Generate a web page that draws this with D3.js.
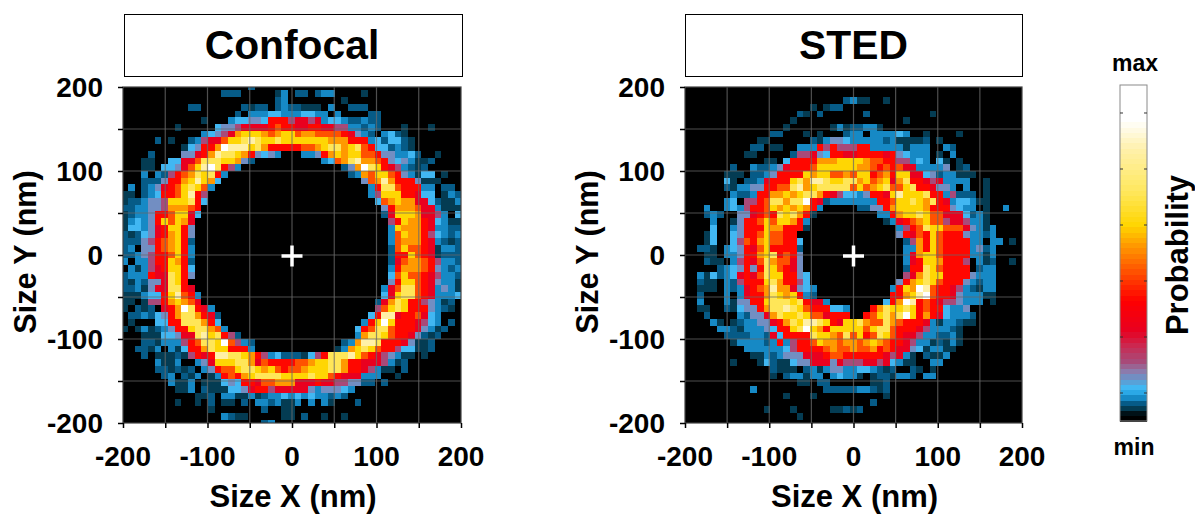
<!DOCTYPE html>
<html><head><meta charset="utf-8">
<script src="https://cdnjs.cloudflare.com/ajax/libs/d3/7.8.5/d3.min.js"></script>
<style>html,body{margin:0;padding:0;background:#fff}svg{display:block}text{font-family:"Liberation Sans",Arial,sans-serif;font-weight:bold;fill:#000}</style>
</head><body><svg id="c" width="1195" height="514"></svg>
<script>
// Binned probability levels: rows run from +200 nm (top) to -200 nm (bottom).
const confocalRows = [
"00000 00000 00000 00002 00000 00000 00000 00000 00000 00000",
"00000 00000 00000 22200 00013 02202 33000 01000 00000 00000",
"00000 00000 00000 00000 00023 00000 00010 00000 00000 00000",
"00000 00000 22000 00021 22023 22111 03002 22000 00000 00000",
"00000 00000 00000 00203 33443 33443 30300 00220 00000 00000",
"00000 00000 00100 03445 54888 67767 34432 23220 00000 00000",
"00000 00010 00004 55677 77898 87788 77663 32320 00100 01000",
"00000 00000 00345 67abb ba9ab b9aa9 99987 53203 42100 00000",
"00000 20100 23677 9bbcd cbbcb bbbbb baaa8 88342 44210 00000",
"00000 00001 4588a edddb ca888 8899a bccab c9844 23210 00000",
"00002 00005 578ad ccba8 54530 00335 8abab b9985 53342 00100",
"00011 00447 79ccc bba52 00000 00000 349ac daa98 54531 12000",
"00011 04457 9bdec 86300 00000 00000 00025 aecb8 76321 20000",
"00030 32689 acbc8 30000 00000 00000 00002 3a9bb 98531 44010",
"00022 2588a bdba4 00000 00000 00000 00000 059ad a88851 11000",
"03023 5789b cb930 00000 00000 00000 00000 0038c c98883 30220",
"11023 4889b d8600 00000 00000 00000 00000 0036b bb8874 40132",
"12235 56bbb c8400 00000 00000 00000 00000 00049 abaa77 42113",
"22335 56aaa 98000 00000 00000 00000 00000 00005 8aaa97 73111",
"12335 889bb 74000 00000 00000 00000 00000 00002 7bbba7 76304",
"13435 8b9ba 70000 00000 00000 00000 00000 00000 68baa8 74311",
"14435 78bb8 50000 00000 00000 00000 00000 00000 3baaa8 73322",
"21245 78ab8 50000 00000 00000 00000 00000 00000 39baa8 64323",
"22256 89ab8 20000 00000 00000 00000 00000 00000 39aaa8 73212",
"23055 89ab8 30000 00000 00000 00000 00000 00000 29b998 71332",
"22356 889b8 30000 00000 00000 00000 00000 00000 288b98 71222",
"30336 88ba8 20000 00000 00000 00000 00000 00000 279aa9 86332",
"03136 78bb8 40000 00000 00000 00000 00000 00000 38aaa9 85323",
"23338 77cb8 50000 00000 00000 00000 00000 00000 49b998 76332",
"21325 57cb8 00000 00000 00000 00000 00000 00000 58bb98 75331",
"22315 77cc8 70000 00000 00000 00000 00000 00003 79cc98 73531",
"11134 48bd9 83000 00000 00000 00000 00000 00004 7bcc98 73334",
"11016 68aba 97000 00000 00000 00000 00000 00027 acb886 53120",
"10212 078ae c8730 00000 00000 00000 00000 00069 bcb888 53210",
"02232 458ac ca872 00000 00000 00000 00000 0048d d78897 43000",
"01000 4488c cca84 00000 00000 00000 00000 038be b88876 43020",
"10131 23588 bcca9 30000 00000 00000 00000 489cc 988875 31200",
"00011 14457 7cdbc 86200 00000 00000 00000 3accb 98875 21200",
"00022 13336 89ccb e9632 00000 00000 00023 addc8 88751 12000",
"00221 30314 88acb b8883 00000 00000 0013a bcb98 86441 12000",
"00020 11121 6878d dccba 86342 22146 8cccd b9876 53110 10000",
"00000 31130 0357b bbcca 79888 899ab bcca8 87776 31200 00000",
"00000 22121 20358 99bcc bab98 99abb bcca8 87631 10200 00000",
"00000 02302 13013 898ab ccccb bbbcb b9877 73330 01000 00000",
"00000 00311 30111 45488 799aa a7778 77665 52202 00000 00000",
"00000 00011 30211 14457 88677 77753 55543 00000 00000 00000",
"00000 00000 01120 33113 12334 34343 32320 00000 00000 00000",
"00000 00010 01020 11020 33231 13030 31000 20000 00000 00000",
"00000 00000 00010 00000 02001 10000 00000 00000 00000 00000",
"00000 00000 00000 32110 00001 10200 10010 00000 00000 00000",
"00000 00000 00000 00000 02300 00000 00000 00000 00000 00000"
];
const stedRows = [
"00000 00000 00000 00000 00000 00000 00000 00000 00000 00000",
"00000 00000 00000 00000 00000 00000 00000 00000 00000 00000",
"00000 00000 00000 00000 00002 31100 10000 00000 00000 00000",
"00000 00000 00000 00001 01220 00000 00000 00000 00000 00000",
"00000 00000 00000 00210 20000 00200 00000 00100 00000 00000",
"00000 00000 00000 01000 00000 00000 00010 00000 00000 00000",
"00000 00000 00000 10000 00131 22331 00000 00000 00000 00000",
"00000 00000 00022 00010 10002 33033 33430 01000 01000 00000",
"00000 00000 01100 00002 13554 33333 23111 12010 00000 00000",
"00000 00000 22011 00333 86866 68833 33313 33003 20000 00000",
"00000 00001 10000 02667 54887 78888 78543 33010 30000 00000",
"00000 00000 00110 48888 aaabb bba99 88663 43041 01000 00000",
"00000 00200 32235 78889 bbbbb baa98 98977 33335 01200 00000",
"00000 01110 22358 888ba bb99a 9bb89 a8bb7 74523 31110 00000",
"00000 04102 23788 8bcad dcbbc cab9a b7ac8 87673 33300 10000",
"00000 02133 55889 9cdab ccccc 9b9ab c99bc 88755 30300 10000",
"00000 00322 388aa babcc a8764 43588 7bdbb bc883 62220 10000",
"00000 03406 689cc acce8 72333 33338 89bbc bac87 34431 10000",
"00030 03436 889ba baba8 30000 02255 8abbb ba888 54330 10030",
"00023 20055 7898c bca81 00000 00003 38abb cb997 774231 0000",
"00003 00158 89b9b ba830 00000 00000 13789 ab996 776331 0000",
"00004 00358 88baa 88810 00000 00000 00368 9cbb9 997531 30000",
"00014 00458 89b99 88000 00000 00000 00587 98b98 885332 30000",
"00014 00469 8ab99 88400 00000 00000 00026 a8b98 888330 33010",
"00221 03458 79b88 88200 00000 00000 00033 a8b98 888352 30000",
"00011 03358 8abc8 98500 00000 00000 00037 abb98 888331 30000",
"00021 10368 79ca9 97500 00000 00000 00037 8bba8 886031 20010",
"00000 23458 58cb9 87500 00000 00000 00028 8cb98 888023 30000",
"00314 23478 79cbb 88540 00000 00000 00067 acbb8 888533 30000",
"00211 03268 88bca 88640 00000 00000 0058a bcb98 885323 30000",
"00111 03237 89ada a7543 00000 00000 038ba ed988 763213 30000",
"00200 03037 88acb ab832 00000 00000 088ab de988 753331 10000",
"00300 03155 88bcc cbc87 73000 00000 48aed 89876 653330 10000",
"00110 02145 58acc dcb98 88443 0008a cbbcb 89884 33500 00000",
"00020 00032 557ac bbcb9 97888 0089b caceb 8a874 33320 00000",
"00003 10123 35578 acbdd cb87b bca99 ca988 87313 32110 00000",
"00000 33213 33548 8bceb a8bbb bb9bc c9888 76333 21000 00000",
"00000 02222 33274 8888c bba9c 9b89c b9877 63322 31000 00000",
"00000 00133 33238 36889 baa9a a9aba 98876 33121 31000 00000",
"00000 00003 33333 46888 89a99 a99a8 98775 41331 10000 00000",
"00000 00000 11323 55577 78998 88888 76731 02113 00000 00000",
"00000 00100 01421 14557 77576 66776 74311 00330 00000 00000",
"00000 00000 00021 11023 13553 34432 12002 10100 00000 00000",
"00000 00000 00010 23313 30343 31012 21332 03300 00000 00000",
"00000 00000 00000 00110 22000 00011 20000 00000 00000 00000",
"00000 00000 30000 00000 02222 23321 20000 00000 00000 00000",
"00000 00000 00000 10001 00000 00000 10000 00000 00000 00000",
"00000 00000 00000 00000 00000 00020 00000 00000 00000 00000",
"00000 00000 00100 01000 00112 12000 00000 00000 00000 00000",
"00000 00000 00000 00100 00000 00000 00000 00000 00000 00000",
"00000 00000 00000 00000 00000 00000 00000 00000 00000 00000"
];
const levelChars = "0123456789abcde";
const levelValues = [0,.035,.057,.075,.098,.135,.185,.27,.36,.45,.52,.585,.68,.8,.93];
const colorPositions = [0,.018,.033,.057,.074,.098,.122,.146,.18,.226,.27,.36,.45,.524,.583,.688,.807,.896,1];
const colorValues = ["#000000","#000000","#03303f","#06608f","#1a94d4","#3cbcf8","#5f9bd0","#8a7fb0","#a84a78","#cc2850","#e80020","#ff0000","#ff5500","#ff9a00","#ffd500","#ffe860","#fff0a8","#ffffff","#ffffff"];
const majorTicks = [-200,-100,0,100,200];
const minorTicks = [-200,-150,-100,-50,0,50,100,150,200];
const legendTicks = [0.0833,0.25,0.4167,0.5833,0.75,0.9167];
const panels = [{title:"Confocal",rows:confocalRows,x:123,w:338,binStart:-201.8,boxX:124.5},{title:"STED",rows:stedRows,x:685,w:337,binStart:-201.5,boxX:685.5}];
const plotTop=87, plotH=336, binX=7.89, binY=8;
const cont = d3.scaleLinear().domain(colorPositions).range(colorValues).interpolate(d3.interpolateRgb);
const steps = 64;
const color = t => cont((Math.min(steps-1,Math.floor(t*steps))+.5)/steps);
const svg = d3.select("#c");
const defs = svg.append("defs");
panels.forEach((p,k)=>{
  const x = d3.scaleLinear().domain([-200,200]).range([p.x,p.x+p.w]);
  const y = d3.scaleLinear().domain([-200,200]).range([plotTop+plotH,plotTop]);
  defs.append("clipPath").attr("id","clip"+k).append("rect").attr("x",p.x).attr("y",plotTop).attr("width",p.w).attr("height",plotH);
  const g = svg.append("g");
  g.append("rect").attr("x",p.boxX).attr("y",14.5).attr("width",p.w).attr("height",62).attr("fill","#fff").attr("stroke","#000").attr("stroke-width",1);
  g.append("text").attr("x",p.x+p.w/2).attr("y",59).attr("text-anchor","middle").attr("font-size",40.8).text(p.title);
  g.append("rect").attr("x",p.x).attr("y",plotTop).attr("width",p.w).attr("height",plotH).attr("fill","#000");
  const cells=[];
  p.rows.forEach((r,j)=>{ const s=r.replace(/ /g,""); for(let i=0;i<s.length;i++){ const l=levelChars.indexOf(s[i]); if(l>0) cells.push({i,j,v:levelValues[l]}); } });
  g.append("g").attr("clip-path",`url(#clip${k})`).selectAll("rect").data(cells).join("rect")
    .attr("x",d=>x(p.binStart+binX*d.i)).attr("width",x(binX)-x(0))
    .attr("y",d=>y(200-binY*d.j+binY/2)).attr("height",y(0)-y(binY))
    .attr("fill",d=>color(d.v)).attr("shape-rendering","crispEdges");
  const grid=g.append("g").attr("stroke","#6a6a6a").attr("stroke-opacity",.75).attr("stroke-width",1.2);
  minorTicks.slice(1,-1).forEach(v=>{
    grid.append("line").attr("x1",x(v)).attr("x2",x(v)).attr("y1",plotTop).attr("y2",plotTop+plotH);
    grid.append("line").attr("y1",y(v)).attr("y2",y(v)).attr("x1",p.x).attr("x2",p.x+p.w);
  });
  g.append("rect").attr("x",p.x).attr("y",plotTop).attr("width",p.w).attr("height",plotH).attr("fill","none").attr("stroke","#444").attr("stroke-width",1.2);
  // centre cross
  g.append("line").attr("x1",x(0)-10.5).attr("x2",x(0)+10.5).attr("y1",y(0)+1).attr("y2",y(0)+1).attr("stroke","#fff").attr("stroke-width",3.5);
  g.append("line").attr("x1",x(0)).attr("x2",x(0)).attr("y1",y(0)-9.5).attr("y2",y(0)+11.5).attr("stroke","#fff").attr("stroke-width",3.5);
  const axB=g.append("g").attr("transform",`translate(0,${plotTop+plotH})`).call(d3.axisBottom(x).tickValues(minorTicks).tickSize(5).tickFormat(""));
  const axL=g.append("g").attr("transform",`translate(${p.x},0)`).call(d3.axisLeft(y).tickValues(minorTicks).tickSize(5).tickFormat(""));
  [axB,axL].forEach(a=>{a.select(".domain").remove();a.selectAll("line").attr("stroke","#000").attr("stroke-width",1.5);});
  majorTicks.forEach(v=>{
    g.append("text").attr("x",x(v)).attr("y",466).attr("text-anchor","middle").attr("font-size",28).text(v);
    g.append("text").attr("x",p.x-20).attr("y",y(v)+10).attr("text-anchor","end").attr("font-size",28).text(v);
  });
  g.append("text").attr("x",p.x+p.w/2+1).attr("y",507).attr("text-anchor","middle").attr("font-size",31).text("Size X (nm)");
  g.append("text").attr("transform",`translate(${p.x-87},${plotTop+plotH/2-3}) rotate(-90)`).attr("text-anchor","middle").attr("font-size",30.5).text("Size Y (nm)");
});
// colour bar
const bx=1120,bw=27,bTop=85,bBot=421;
const ly=d3.scaleLinear().domain([0,1]).range([bBot,bTop]);
svg.append("g").selectAll("rect").data(d3.range(steps)).join("rect")
  .attr("x",bx).attr("width",bw).attr("y",d=>ly((d+1)/steps)).attr("height",ly(0)-ly(1/steps)+.5)
  .attr("fill",d=>cont((d+.5)/steps)).attr("shape-rendering","crispEdges");
svg.append("rect").attr("x",bx).attr("y",bTop).attr("width",bw).attr("height",bBot-bTop).attr("fill","none").attr("stroke","#8a8a8a").attr("stroke-width",1);
legendTicks.forEach(t=>{
  svg.append("line").attr("x1",bx).attr("x2",bx+3).attr("y1",ly(t)).attr("y2",ly(t)).attr("stroke","#333");
  svg.append("line").attr("x1",bx+bw-3).attr("x2",bx+bw).attr("y1",ly(t)).attr("y2",ly(t)).attr("stroke","#333");
});
svg.append("text").attr("x",1135).attr("y",71).attr("text-anchor","middle").attr("font-size",23).text("max");
svg.append("text").attr("x",1134).attr("y",455).attr("text-anchor","middle").attr("font-size",23).text("min");
svg.append("text").attr("transform","translate(1188,255) rotate(-90)").attr("text-anchor","middle").attr("font-size",31).text("Probability");
</script></body></html>
